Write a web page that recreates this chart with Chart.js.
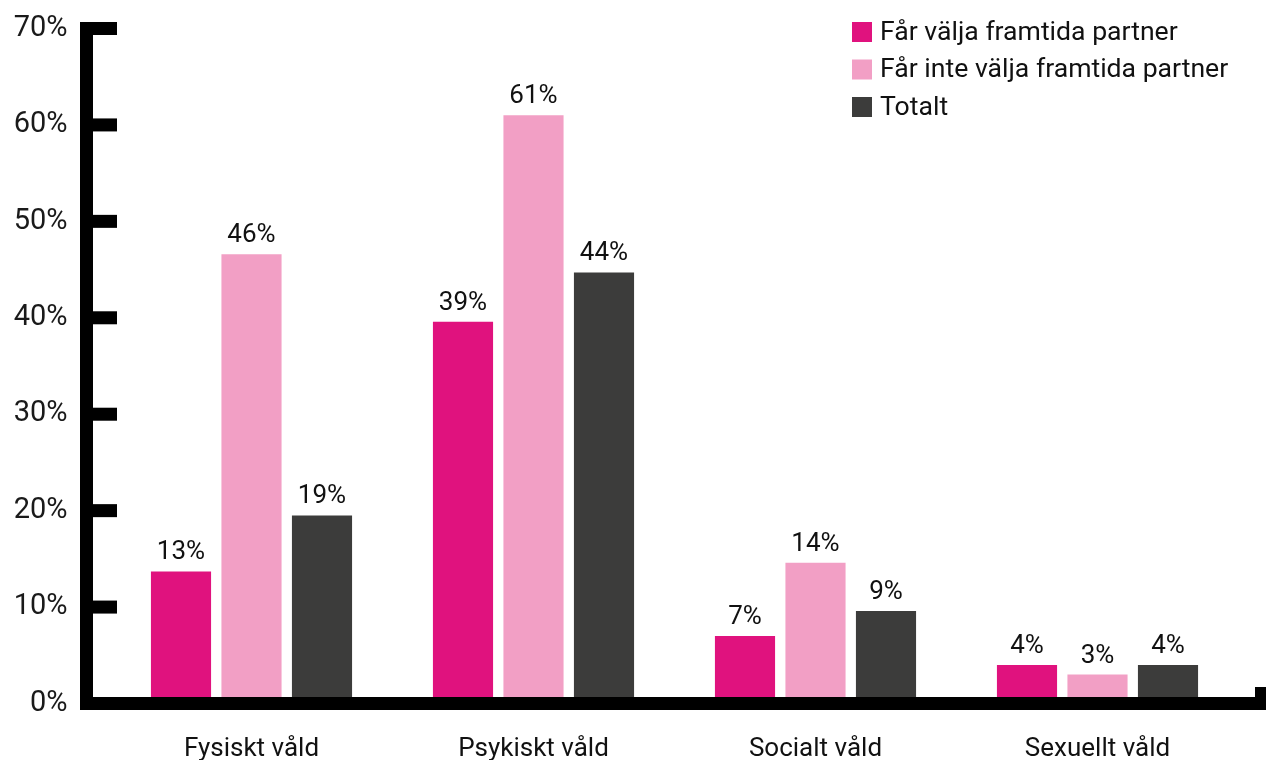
<!DOCTYPE html>
<html><head><meta charset="utf-8">
<script src="https://cdn.jsdelivr.net/npm/chart.js@4.4.0/dist/chart.umd.min.js"></script>
<style>html,body{margin:0;padding:0;background:#fff;overflow:hidden}#wrap{width:1266px;height:760px;position:relative}</style>
</head><body><div id="wrap"><canvas id="c" width="1266" height="760"></canvas></div>
<script>
const categories = ['Fysiskt våld', 'Psykiskt våld', 'Socialt våld', 'Sexuellt våld'];
const seriesNames = ['Får välja framtida partner', 'Får inte välja framtida partner', 'Totalt'];
const valjaValues = [13.7, 39.6, 7.0, 4.0];
const inteValjaValues = [46.6, 61.0, 14.6, 3.0];
const totaltValues = [19.5, 44.7, 9.6, 4.0];
const valjaLabels = ['13%', '39%', '7%', '4%'];
const inteValjaLabels = ['46%', '61%', '14%', '3%'];
const totaltLabels = ['19%', '44%', '9%', '4%'];
const yTickValues = [0, 10, 20, 30, 40, 50, 60, 70];
const colors = ['#e0127e', '#f29fc5', '#3c3c3b'];

const FONT = 'Roboto';
const TEXT = '#111';
const AXIS_W = 13;

const axesPlugin = {
  id: 'thickAxes',
  afterDatasetsDraw(chart) {
    const ctx = chart.ctx, y = chart.scales.y, ca = chart.chartArea;
    const axL = ca.left - 30.5, axR = axL + AXIS_W;
    const y0 = y.getPixelForValue(0), yTop = y.getPixelForValue(yTickValues[yTickValues.length - 1]);
    ctx.save();
    ctx.fillStyle = '#000';
    ctx.fillRect(axL, yTop - AXIS_W / 2, AXIS_W, (y0 - yTop) + AXIS_W);
    yTickValues.forEach(v => {
      const py = y.getPixelForValue(v);
      if (v !== 0) ctx.fillRect(axR, py - AXIS_W / 2, 24, AXIS_W);
    });
    ctx.fillRect(axL, y0 - AXIS_W / 2, chart.width - axL, AXIS_W);
    ctx.fillRect(chart.width - 11, y0 - 16.5, 11, 16.5 + AXIS_W / 2);
    ctx.restore();
  }
};

const labelsPlugin = {
  id: 'barLabels',
  afterDatasetsDraw(chart) {
    const ctx = chart.ctx;
    const all = [valjaLabels, inteValjaLabels, totaltLabels];
    ctx.save();
    ctx.font = '26px ' + FONT;
    ctx.fillStyle = TEXT;
    ctx.textAlign = 'center';
    ctx.textBaseline = 'alphabetic';
    chart.data.datasets.forEach((ds, i) => {
      chart.getDatasetMeta(i).data.forEach((bar, j) => {
        ctx.fillText(all[i][j], bar.x, bar.y - 12);
      });
    });
    ctx.restore();
  }
};

const legendPlugin = {
  id: 'customLegend',
  afterDraw(chart) {
    const ctx = chart.ctx;
    const x0 = chart.width - 414, yStart = 32, step = 37.5, box = 20;
    ctx.save();
    ctx.font = '26.6px ' + FONT;
    ctx.textBaseline = 'middle';
    ctx.textAlign = 'left';
    chart.data.datasets.forEach((ds, i) => {
      const cy = yStart + i * step;
      ctx.fillStyle = ds.backgroundColor;
      ctx.fillRect(x0, cy - box / 2, box, box);
      ctx.fillStyle = TEXT;
      ctx.fillText(ds.label, x0 + 28, cy + 1);
    });
    ctx.restore();
  }
};

new Chart(document.getElementById('c'), {
  type: 'bar',
  data: {
    labels: categories,
    datasets: [
      { label: seriesNames[0], data: valjaValues, backgroundColor: colors[0] },
      { label: seriesNames[1], data: inteValjaValues, backgroundColor: colors[1] },
      { label: seriesNames[2], data: totaltValues, backgroundColor: colors[2] }
    ]
  },
  options: {
    responsive: false,
    animation: false,
    layout: { padding: { top: 28.5, right: 27.5, left: 0, bottom: 0 } },
    datasets: { bar: { categoryPercentage: 0.75, barPercentage: 0.853 } },
    plugins: { legend: { display: false }, tooltip: { enabled: false } },
    scales: {
      x: {
        grid: { display: false, drawTicks: false },
        border: { display: false },
        ticks: { color: TEXT, font: { family: FONT, size: 26 }, padding: 30, maxRotation: 0 },
        afterFit(s) { s.height = 56.5; s.paddingLeft = 0; s.paddingRight = 0; }
      },
      y: {
        min: 0, max: 70,
        afterBuildTicks(s) { s.ticks = yTickValues.map(v => ({ value: v })); },
        grid: { display: false, drawTicks: false },
        border: { display: false },
        ticks: { color: '#1a1a1a', font: { family: FONT, size: 29 }, padding: 43, callback: v => v + '%' },
        afterFit(s) { s.width = 110.5; s.paddingTop = 0; s.paddingBottom = 0; }
      }
    }
  },
  plugins: [axesPlugin, labelsPlugin, legendPlugin]
});
</script></body></html>
